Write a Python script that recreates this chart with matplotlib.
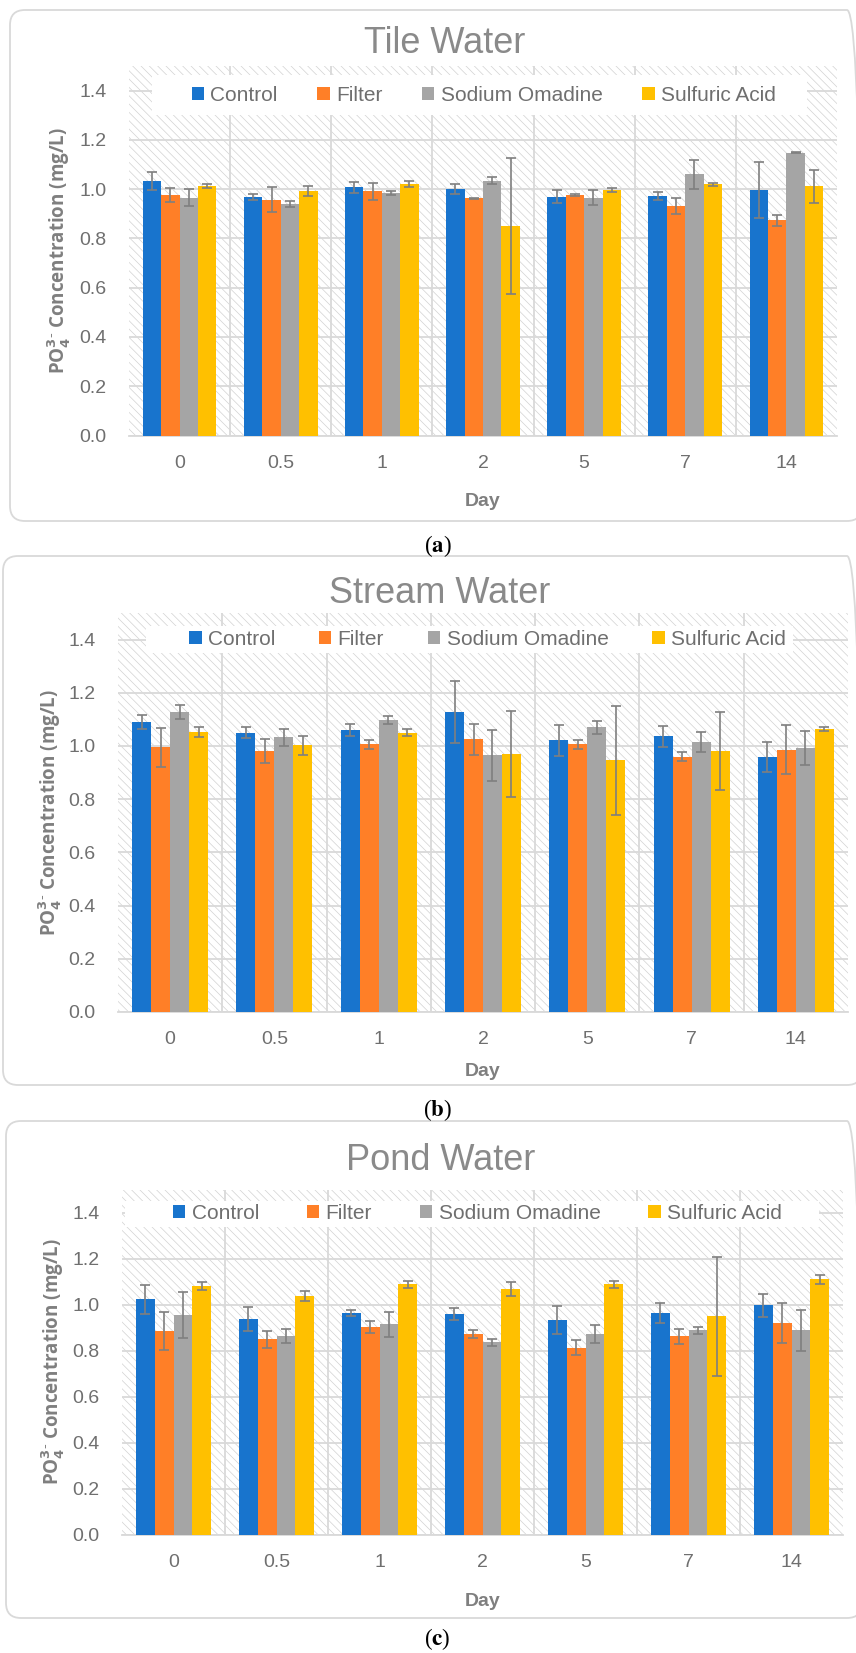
import matplotlib.pyplot as plt
import numpy as np
from matplotlib.patches import Rectangle, FancyBboxPatch

plt.rcParams['font.family'] = ['Liberation Sans', 'DejaVu Sans']
plt.rcParams['hatch.linewidth'] = 0.5

days = ['0', '0.5', '1', '2', '5', '7', '14']
series = ['Control', 'Filter', 'Sodium Omadine', 'Sulfuric Acid']
colors = ['#1874CD', '#FF7F27', '#A5A5A5', '#FFC000']

# (a) Tile water
tile_control = [1.032, 0.969, 1.007, 1.000, 0.970, 0.973, 0.997]
tile_filter = [0.976, 0.958, 0.992, 0.963, 0.977, 0.931, 0.873]
tile_sodium = [0.965, 0.939, 0.984, 1.034, 0.966, 1.060, 1.147]
tile_acid = [1.013, 0.992, 1.020, 0.851, 0.997, 1.020, 1.011]
tile_control_err = [0.036, 0.011, 0.021, 0.019, 0.028, 0.015, 0.113]
tile_filter_err = [0.028, 0.051, 0.035, 0.003, 0.004, 0.033, 0.024]
tile_sodium_err = [0.035, 0.011, 0.009, 0.015, 0.029, 0.060, 0.002]
tile_acid_err = [0.007, 0.020, 0.012, 0.275, 0.009, 0.007, 0.067]

# (b) Stream water
stream_control = [1.090, 1.050, 1.060, 1.129, 1.021, 1.036, 0.959]
stream_filter = [0.995, 0.981, 1.006, 1.025, 1.006, 0.959, 0.986]
stream_sodium = [1.128, 1.033, 1.097, 0.965, 1.070, 1.014, 0.993]
stream_acid = [1.053, 1.003, 1.050, 0.969, 0.946, 0.980, 1.063]
stream_control_err = [0.026, 0.021, 0.021, 0.117, 0.058, 0.040, 0.055]
stream_filter_err = [0.073, 0.044, 0.017, 0.058, 0.018, 0.017, 0.092]
stream_sodium_err = [0.026, 0.032, 0.015, 0.095, 0.024, 0.038, 0.065]
stream_acid_err = [0.018, 0.035, 0.014, 0.162, 0.205, 0.146, 0.008]

# (c) Pond water
pond_control = [1.023, 0.935, 0.964, 0.958, 0.932, 0.964, 0.996]
pond_filter = [0.884, 0.848, 0.903, 0.871, 0.813, 0.862, 0.920]
pond_sodium = [0.953, 0.862, 0.914, 0.835, 0.871, 0.888, 0.888]
pond_acid = [1.080, 1.037, 1.087, 1.067, 1.088, 0.948, 1.109]
pond_control_err = [0.063, 0.052, 0.013, 0.025, 0.062, 0.043, 0.049]
pond_filter_err = [0.082, 0.038, 0.025, 0.018, 0.033, 0.032, 0.088]
pond_sodium_err = [0.100, 0.030, 0.054, 0.017, 0.040, 0.015, 0.090]
pond_acid_err = [0.018, 0.022, 0.015, 0.031, 0.015, 0.259, 0.019]

W, H = 856, 1653
fig = plt.figure(figsize=(W / 100, H / 100), dpi=100)

grey_txt = '#6f6f6f'
grid_c = '#d9d9d9'

panels = [
    dict(title='Tile Water', tag='a',
         values=[tile_control, tile_filter, tile_sodium, tile_acid],
         errors=[tile_control_err, tile_filter_err, tile_sodium_err, tile_acid_err],
         box=(10, 10, 862, 521), axes=(129, 66, 837, 435.5),
         title_xy=(445, 53), tag_xy=(438, 552), day_off=66, ylab_x=59,
         leg_box=(0.0325, 0.8667, 0.9576, 0.9749), leg_xy=(0.501, 0.921), colsp=1.9),
    dict(title='Stream Water', tag='b',
         values=[stream_control, stream_filter, stream_sodium, stream_acid],
         errors=[stream_control_err, stream_filter_err, stream_sodium_err, stream_acid_err],
         box=(3, 556, 862, 1085), axes=(118, 613, 848, 1012),
         title_xy=(440, 603), tag_xy=(437, 1116), day_off=59, ylab_x=50,
         leg_box=(0.0384, 0.899, 0.9253, 0.9664), leg_xy=(0.506, 0.934), colsp=2.1),
    dict(title='Pond Water', tag='c',
         values=[pond_control, pond_filter, pond_sodium, pond_acid],
         errors=[pond_control_err, pond_filter_err, pond_sodium_err, pond_acid_err],
         box=(6, 1121, 862, 1618), axes=(122, 1189.5, 843, 1534.5),
         title_xy=(441, 1170), tag_xy=(437, 1645), day_off=67, ylab_x=53,
         leg_box=(0.0035, 0.891, 0.9667, 0.968), leg_xy=(0.493, 0.931), colsp=2.3),
]

x = np.arange(len(days))
bw = 0.182

for p in panels:
    bx0, by0, bx1, by1 = p['box']
    frame = FancyBboxPatch((bx0 / 100, (H - by1) / 100), (bx1 - bx0) / 100, (by1 - by0) / 100,
                           boxstyle='round,pad=0,rounding_size=0.15',
                           transform=fig.dpi_scale_trans, fc='none', ec=grid_c, lw=1.3)
    fig.add_artist(frame)

    ax0, ay0, ax1, ay1 = p['axes']
    ax = fig.add_axes([ax0 / W, 1 - ay1 / H, (ax1 - ax0) / W, (ay1 - ay0) / H])
    ax.set_facecolor('none')
    ax.set_axisbelow(True)

    # hatched plot area
    ax.add_patch(Rectangle((0, 0), 1, 1, transform=ax.transAxes, facecolor='white',
                           edgecolor='#d2d2d2', hatch='\\\\\\\\', lw=0, zorder=0))

    for k in range(4):
        ax.bar(x + (k - 1.5) * bw, p['values'][k], bw, yerr=p['errors'][k],
               color=colors[k], label=series[k], zorder=3,
               error_kw=dict(ecolor='#7f7f7f', elinewidth=1.2, capsize=3.8,
                             capthick=1.2, zorder=4))

    ax.set_xlim(-0.5, len(days) - 0.5)
    ax.set_ylim(0, 1.5)
    ax.set_yticks(np.arange(0, 1.41, 0.2))
    ax.set_yticklabels([f'{v:.1f}' for v in np.arange(0, 1.41, 0.2)])
    ax.set_xticks(x)
    ax.set_xticklabels(days)
    ax.set_xticks(np.arange(0.5, len(days) - 1, 1), minor=True)
    ax.grid(axis='y', which='major', color=grid_c, lw=1.3)
    ax.grid(axis='x', which='minor', color=grid_c, lw=1.3)
    ax.tick_params(axis='both', which='both', length=0, labelsize=14, labelcolor=grey_txt)
    ax.tick_params(axis='y', pad=16)
    ax.tick_params(axis='x', pad=14)
    for s in ['left', 'right', 'top']:
        ax.spines[s].set_visible(False)
    ax.spines['bottom'].set_color(grid_c)
    ax.spines['bottom'].set_linewidth(1.3)

    # legend backing box
    lx0, ly0, lx1, ly1 = p['leg_box']
    ax.add_patch(Rectangle((lx0, ly0), lx1 - lx0, ly1 - ly0, transform=ax.transAxes,
                           facecolor='white', edgecolor='none', zorder=1))
    leg = ax.legend(loc='center', bbox_to_anchor=p['leg_xy'], ncol=4, frameon=False,
                    fontsize=15, handlelength=0.6, handleheight=0.6, handletextpad=0.3,
                    columnspacing=p['colsp'], borderaxespad=0)
    for t in leg.get_texts():
        t.set_color(grey_txt)

    ylx = (p['ylab_x'] - ax0) / (ax1 - ax0)
    ax.text(ylx, 0.5, r'PO$_\mathbf{4}^{\mathbf{3}‐}$ Concentration (mg/L)', rotation=90,
            transform=ax.transAxes, ha='center', va='center', fontsize=13.5,
            fontweight='bold', color='#7f7f7f', family=['Open Sans', 'DejaVu Sans'])

    ax.annotate('Day', xy=(0.5, 0), xycoords='axes fraction', xytext=(0, -p['day_off']),
                textcoords='offset pixels', ha='center', va='center', fontsize=14,
                fontweight='bold', color='#7f7f7f')

    tx, ty = p['title_xy']
    fig.text(tx / W, 1 - ty / H, p['title'], ha='center', va='baseline',
             fontsize=26, color='#8a8a8a')

    gx, gy = p['tag_xy']
    fig.text(gx / W, 1 - gy / H, r'($\mathbf{' + p['tag'] + '}$)', ha='center', va='baseline',
             fontsize=16.5, family='Liberation Serif', math_fontfamily='stix', color='black')

fig.savefig('out.png', dpi=100)
